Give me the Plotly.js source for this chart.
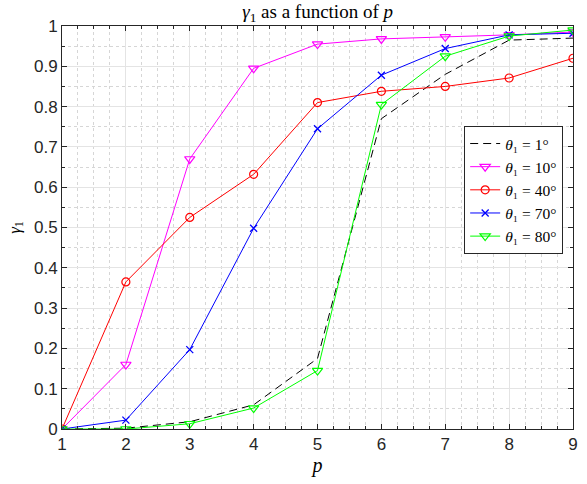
<!DOCTYPE html>
<html>
<head>
<meta charset="utf-8">
<script src="https://cdn.plot.ly/plotly-3.0.1.min.js"></script>
<style>html,body{margin:0;padding:0;background:#fff;}#chart{width:587px;height:484px;}</style>
</head>
<body>
<div id="chart"></div>
<script>
const p = [1, 2, 3, 4, 5, 6, 7, 8, 9];
const theta1 = [0, 0.002, 0.018, 0.06, 0.175, 0.77, 0.88, 0.965, 0.97];
const theta10 = [0, 0.16, 0.67, 0.895, 0.955, 0.968, 0.973, 0.978, 0.985];
const theta40 = [0, 0.365, 0.525, 0.632, 0.81, 0.838, 0.85, 0.871, 0.92];
const theta70 = [0, 0.022, 0.197, 0.498, 0.745, 0.878, 0.944, 0.978, 0.982];
const theta80 = [0, 0, 0.013, 0.052, 0.145, 0.805, 0.925, 0.975, 0.99];
const names = ['<i>θ</i>₁ = 1°', '<i>θ</i>₁ = 10°', '<i>θ</i>₁ = 40°', '<i>θ</i>₁ = 70°', '<i>θ</i>₁ = 80°'];
const xTicks = [1, 2, 3, 4, 5, 6, 7, 8, 9];
const yTicks = [0, 0.1, 0.2, 0.3, 0.4, 0.5, 0.6, 0.7, 0.8, 0.9, 1];
const yTickText = ['0', '0.1', '0.2', '0.3', '0.4', '0.5', '0.6', '0.7', '0.8', '0.9', '1'];

const traces = [
  {x: p, y: theta1, name: names[0], mode: 'lines', line: {color: '#000000', width: 1, dash: '8px,5px'}},
  {x: p, y: theta10, name: names[1], mode: 'lines+markers', line: {color: '#ff00ff', width: 1}, marker: {symbol: 'triangle-down-open', size: 9, color: '#ff00ff', line: {width: 1.2}}},
  {x: p, y: theta40, name: names[2], mode: 'lines+markers', line: {color: '#ff0000', width: 1}, marker: {symbol: 'circle-open', size: 8, color: '#ff0000', line: {width: 1.2}}},
  {x: p, y: theta70, name: names[3], mode: 'lines+markers', line: {color: '#0000ff', width: 1}, marker: {symbol: 'x-thin-open', size: 7, color: '#0000ff', line: {width: 1.3, color: '#0000ff'}}},
  {x: p, y: theta80, name: names[4], mode: 'lines+markers', line: {color: '#00ff00', width: 1}, marker: {symbol: 'triangle-down-open', size: 9, color: '#00ff00', line: {width: 1.2}}}
];

const axisCommon = {
  showline: true, linecolor: '#262626', linewidth: 1, mirror: 'ticks',
  ticks: 'inside', ticklen: 5, tickcolor: '#262626', tickwidth: 1,
  showgrid: true, gridcolor: '#e4e4e4', gridwidth: 1,
  zeroline: false,
  tickfont: {family: 'Liberation Sans, Arial, sans-serif', size: 17, color: '#262626'}
};

const layout = {
  width: 587, height: 484,
  margin: {l: 62, r: 14, t: 26, b: 55},
  paper_bgcolor: '#ffffff', plot_bgcolor: '#ffffff',
  showlegend: true,
  title: {text: '<i>γ</i><sub>1</sub> as a function of <i>p</i>', font: {family: 'Liberation Serif, DejaVu Serif, serif', size: 19, color: '#000'}, x: 0.541, xanchor: 'center', y: 0.976, yanchor: 'middle'},
  xaxis: Object.assign({}, axisCommon, {
    range: [1, 9], tickvals: xTicks, ticktext: xTicks.map(String),
    minor: {dtick: 0.25, showgrid: true, gridcolor: '#d6d6d6', griddash: 'dot', gridwidth: 1, ticks: 'inside', ticklen: 3, tickcolor: '#262626'},
    title: {text: '<i>p</i>', font: {family: 'Liberation Serif, DejaVu Serif, serif', size: 20, color: '#000'}, standoff: 4}
  }),
  yaxis: Object.assign({}, axisCommon, {
    range: [0, 1], tickvals: yTicks, ticktext: yTickText,
    minor: {dtick: 0.05, showgrid: true, gridcolor: '#d6d6d6', griddash: 'dot', gridwidth: 1, ticks: 'inside', ticklen: 3, tickcolor: '#262626'},
    title: {text: '<i>γ</i><sub>1</sub>', font: {family: 'Liberation Serif, DejaVu Serif, serif', size: 17, color: '#000'}, standoff: 9}
  }),
  legend: {
    x: 0.787, y: 0.752, xanchor: 'left', yanchor: 'top',
    bgcolor: '#ffffff', bordercolor: '#262626', borderwidth: 1,
    font: {family: 'Liberation Serif, DejaVu Serif, serif', size: 15.5, color: '#000'},
    tracegroupgap: 0, itemwidth: 30
  }
};

Plotly.newPlot('chart', traces, layout, {displayModeBar: false, staticPlot: true});
</script>
</body>
</html>
